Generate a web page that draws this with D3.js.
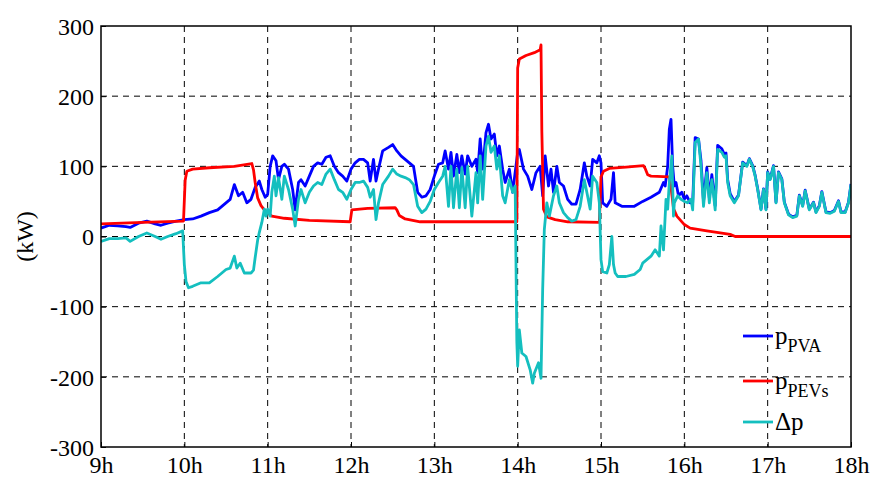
<!DOCTYPE html>
<html><head><meta charset="utf-8">
<script src="https://cdn.jsdelivr.net/npm/d3@7"></script>
<style>
body{margin:0;background:#fff;}
svg text{font-family:"Liberation Serif","DejaVu Serif",serif !important;}
</style></head>
<body><svg id="c" width="875" height="480"></svg>
<script>
// ---- data (hours of day, kW) ----
const xTicks = [9,10,11,12,13,14,15,16,17,18];
const xTickLabels = ["9h","10h","11h","12h","13h","14h","15h","16h","17h","18h"];
const yTicks = [300,200,100,0,-100,-200,-300];

const pvaHours = [9.0,9.1,9.2,9.3,9.35,9.45,9.55,9.65,9.72,9.8,9.9,10.0,10.1,10.2,10.3,10.4,10.5,10.55,10.6,10.65,10.7,10.75,10.8,10.85,10.9,10.93,10.97,11.0,11.03,11.06,11.1,11.13,11.17,11.2,11.25,11.3,11.33,11.37,11.4,11.45,11.5,11.55,11.6,11.65,11.7,11.75,11.8,11.85,11.9,11.95,12.0,12.05,12.1,12.15,12.2,12.23,12.27,12.3,12.33,12.38,12.45,12.5,12.55,12.6,12.65,12.7,12.75,12.8,12.85,12.9,12.95,13.0,13.05,13.1,13.13,13.17,13.2,13.23,13.27,13.3,13.33,13.37,13.4,13.45,13.5,13.52,13.55,13.58,13.62,13.65,13.68,13.72,13.75,13.78,13.82,13.85,13.9,13.94,14.0,14.02,14.07,14.12,14.17,14.22,14.27,14.3,14.33,14.37,14.4,14.43,14.47,14.5,14.55,14.6,14.65,14.7,14.75,14.8,14.83,14.87,14.9,14.95,14.98,15.0,15.02,15.07,15.12,15.15,15.17,15.25,15.4,15.5,15.6,15.7,15.75,15.77,15.8,15.82,15.84,15.86,15.88,15.9,15.93,15.97,16.0,16.03,16.07,16.1,16.13,16.17,16.2,16.23,16.27,16.3,16.33,16.37,16.4,16.45,16.48,16.5,16.52,16.55,16.6,16.65,16.7,16.75,16.78,16.82,16.85,16.88,16.92,16.95,16.98,17.0,17.03,17.07,17.1,17.13,17.17,17.2,17.25,17.3,17.35,17.38,17.42,17.45,17.5,17.55,17.58,17.62,17.65,17.7,17.75,17.8,17.85,17.88,17.93,17.97,18.0];
const pvaKW = [12,16,15,14,13,19,22,18,16,19,22,24,25,29,34,38,48,53,74,58,63,48,53,70,79,67,56,60,100,115,108,81,100,103,96,67,38,77,81,72,86,100,105,103,113,115,100,91,86,79,96,105,110,110,105,79,110,79,96,122,127,131,122,115,110,105,100,63,56,58,67,86,103,105,122,96,120,86,117,91,115,89,115,100,110,91,139,96,148,160,139,146,115,129,96,77,96,63,120,124,96,86,67,91,100,58,115,72,96,63,100,77,72,53,46,46,67,105,86,72,110,105,115,105,48,43,53,91,48,43,43,50,56,63,77,72,100,153,167,100,72,77,58,63,53,58,48,48,141,139,108,50,98,55,88,44,130,125,117,119,81,61,50,59,106,101,111,101,87,68,39,68,39,92,82,101,49,92,82,49,32,28,30,59,44,66,39,49,35,44,64,35,34,37,51,35,35,49,75];

const pevHours = [9.0,9.5,9.99,10.01,10.03,10.1,10.3,10.6,10.81,10.83,10.85,10.88,10.92,10.96,11.05,11.2,11.5,11.99,12.01,12.2,12.53,12.55,12.58,12.65,12.83,13.5,13.99,14.0,14.02,14.1,14.2,14.27,14.28,14.29,14.31,14.35,14.45,14.6,14.98,15.0,15.03,15.1,15.3,15.51,15.53,15.56,15.6,15.82,15.84,15.87,15.91,16.0,16.07,16.27,16.55,16.61,17.0,18.0];
const pevKW = [18,20,22,80,93,96,98,100,104,95,77,55,44,38,29,26,23,21,38,40,41,38,30,25,21,21,21,240,253,258,262,266,273,150,39,28,24,21,20,85,93,97,99,101,97,88,86,85,70,40,29,17,12,8,3,0,0,0];

const dpHours = [9.0,9.1,9.2,9.3,9.35,9.45,9.55,9.65,9.72,9.8,9.9,9.98,10.0,10.02,10.05,10.1,10.2,10.3,10.4,10.5,10.55,10.6,10.63,10.67,10.72,10.8,10.83,10.85,10.88,10.9,10.93,10.96,10.98,11.0,11.03,11.05,11.08,11.1,11.13,11.17,11.2,11.25,11.3,11.33,11.37,11.4,11.45,11.5,11.55,11.6,11.65,11.7,11.75,11.8,11.85,11.9,11.95,12.0,12.05,12.1,12.15,12.2,12.23,12.27,12.3,12.33,12.38,12.45,12.5,12.55,12.6,12.65,12.7,12.75,12.8,12.85,12.9,12.95,13.0,13.05,13.1,13.13,13.17,13.2,13.23,13.27,13.3,13.33,13.37,13.4,13.45,13.5,13.52,13.55,13.58,13.62,13.65,13.68,13.72,13.75,13.78,13.82,13.85,13.9,13.94,13.97,13.99,14.0,14.02,14.05,14.1,14.15,14.18,14.2,14.25,14.28,14.3,14.32,14.35,14.38,14.43,14.47,14.5,14.55,14.6,14.65,14.7,14.75,14.8,14.83,14.87,14.9,14.95,14.98,15.0,15.02,15.07,15.1,15.13,15.15,15.17,15.2,15.3,15.4,15.47,15.5,15.6,15.65,15.7,15.72,15.75,15.78,15.8,15.82,15.85,15.87,15.88,15.92,15.96,16.0,16.04,16.08,16.1,16.13,16.17,16.2,16.23,16.27,16.3,16.33,16.37,16.4,16.45,16.48,16.5,16.52,16.55,16.6,16.65,16.7,16.75,16.78,16.82,16.85,16.88,16.92,16.95,16.98,17.0,17.03,17.07,17.1,17.13,17.17,17.2,17.25,17.3,17.35,17.38,17.42,17.45,17.5,17.55,17.58,17.62,17.65,17.7,17.75,17.8,17.85,17.88,17.93,17.97,18.0];
const dpKW = [-7,-3,-3,-2,-7,0,5,0,-4,0,4,8,-40,-64,-73,-71,-66,-66,-57,-47,-45,-28,-45,-38,-52,-52,-48,-30,-5,6,20,39,29,39,29,63,86,58,84,53,86,67,39,15,53,67,48,63,72,77,74,89,96,81,67,63,53,67,77,77,79,70,56,67,24,48,74,86,96,89,86,84,81,74,43,34,39,50,67,77,86,100,43,100,41,96,41,98,41,100,29,91,48,115,53,129,143,120,129,96,115,58,48,81,63,72,-150,-185,-133,-166,-171,-190,-209,-195,-180,-202,-76,10,48,29,58,72,48,34,27,22,24,43,81,63,39,86,77,48,-33,-50,-52,-40,0,-40,-52,-57,-57,-54,-47,-38,-28,-19,-28,15,-19,53,39,77,115,29,48,58,53,50,48,53,38,134,139,100,43,91,48,81,38,124,120,113,115,77,58,48,58,105,100,110,100,86,67,38,67,38,91,81,100,48,91,81,48,31,27,29,58,43,65,38,48,34,43,63,34,33,36,50,34,34,48,74];

// ---- layout ----
const FONT = "'Liberation Serif','DejaVu Serif',serif";
const L = 101, R = 851, T = 26, B = 447;
const svg = d3.select("#c");
const x = d3.scaleLinear().domain([9,18]).range([L,R]);
const y = d3.scaleLinear().domain([-300,300]).range([B,T]);

// grid
const grid = svg.append("g");
grid.selectAll("line.gx").data(xTicks.slice(1,-1)).enter().append("line")
  .attr("x1",d=>x(d)).attr("x2",d=>x(d)).attr("y1",T).attr("y2",B)
  .attr("stroke","#000").attr("stroke-width",1).attr("stroke-dasharray","6,5");
grid.selectAll("line.gy").data(yTicks.slice(1,-1)).enter().append("line")
  .attr("y1",d=>y(d)).attr("y2",d=>y(d)).attr("x1",L).attr("x2",R)
  .attr("stroke","#000").attr("stroke-width",1).attr("stroke-dasharray","6,5");

// clip
svg.append("clipPath").attr("id","clip").append("rect")
  .attr("x",L).attr("y",T).attr("width",R-L).attr("height",B-T);

const line = d3.line().x(d=>x(d[0])).y(d=>y(d[1]));
const zip = (h,v)=>h.map((t,i)=>[t,v[i]]);
const series = [
  {h:pvaHours, v:pvaKW, c:"#0000ff"},
  {h:pevHours, v:pevKW, c:"#ff0000"},
  {h:dpHours, v:dpKW, c:"#14bfbf"}
];
const lines = svg.append("g").attr("clip-path","url(#clip)");
series.forEach(s=>{
  lines.append("path").datum(zip(s.h,s.v)).attr("d",line)
    .attr("fill","none").attr("stroke",s.c).attr("stroke-width",2.8)
    .attr("stroke-linejoin","round");
});

// axes (box)
const xAxis = d3.axisBottom(x).tickValues(xTicks).tickFormat((d,i)=>xTickLabels[i]).tickSizeInner(-5).tickSizeOuter(0).tickPadding(9);
const gx = svg.append("g").attr("transform",`translate(0,${B})`).call(xAxis);
const yAxis = d3.axisLeft(y).tickValues(yTicks).tickFormat(d=>d).tickSizeInner(-5).tickSizeOuter(0).tickPadding(7);
const gy = svg.append("g").attr("transform",`translate(${L},0)`).call(yAxis);
[gx,gy].forEach(g=>{
  g.attr("font-family",null);
  g.select(".domain").remove();
  g.selectAll("line").attr("stroke","#000");
  g.selectAll("text").attr("font-size",24).attr("fill","#000").style("font-family",FONT);
});
gx.selectAll("text").attr("dy","0.71em");
gy.selectAll("text").attr("dy","0.34em");
svg.append("rect").attr("x",L).attr("y",T).attr("width",R-L).attr("height",B-T)
  .attr("fill","none").attr("stroke","#000").attr("stroke-width",1.5);

// y label
svg.append("text").attr("transform",`translate(33,${(T+B)/2}) rotate(-90)`)
  .attr("text-anchor","middle").attr("font-size",24).style("font-family",FONT).text("(kW)");

// legend
const legendItems = [
  {main:"p", sub:"PVA", c:"#0000ff", y:336},
  {main:"p", sub:"PEVs", c:"#ff0000", y:381},
  {main:"Δp", sub:"", c:"#14bfbf", y:422}
];
const lg = svg.append("g");
legendItems.forEach(it=>{
  lg.append("line").attr("x1",743).attr("x2",773).attr("y1",it.y).attr("y2",it.y)
    .attr("stroke",it.c).attr("stroke-width",2.8);
  const t = lg.append("text").attr("x",775).attr("y",it.y+8).attr("font-size",25).style("font-family",FONT);
  t.append("tspan").text(it.main);
  if(it.sub) t.append("tspan").attr("font-size",18).attr("dy",8).text(it.sub);
});
</script></body></html>
